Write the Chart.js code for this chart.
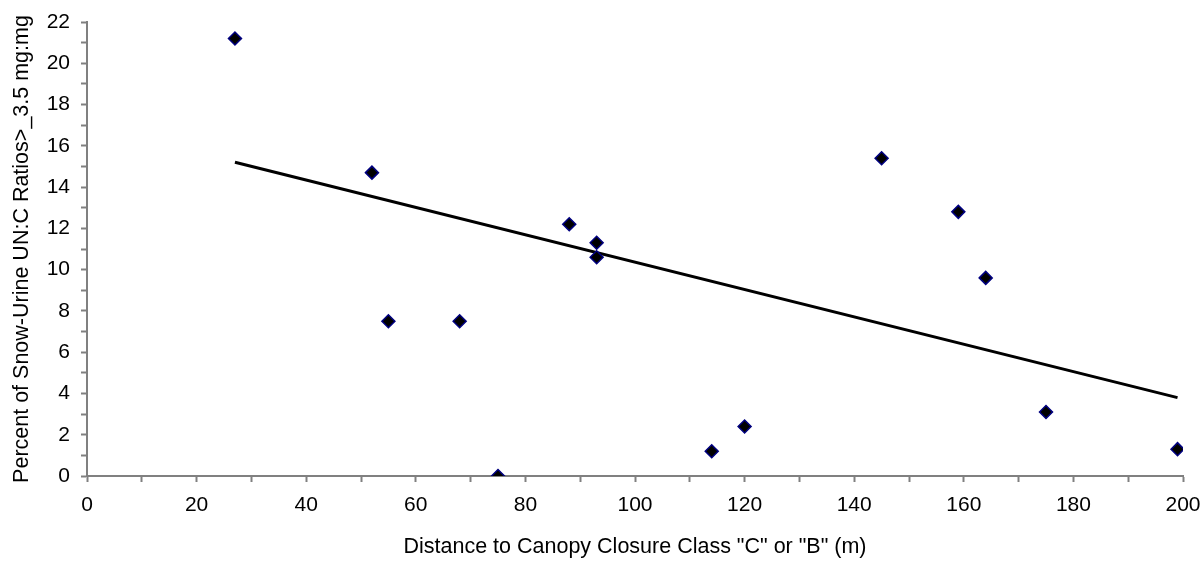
<!DOCTYPE html>
<html>
<head>
<meta charset="utf-8">
<script src="https://cdn.jsdelivr.net/npm/chart.js@4/dist/chart.umd.min.js"></script>
<style>
  html, body { margin: 0; padding: 0; background: #fff; }
  #wrap { width: 1204px; height: 561px; }
</style>
</head>
<body>
<div id="wrap"><canvas id="myChart" width="1204" height="561"></canvas></div>
<script>
// distance to canopy closure class (m) and percent of ratios
const distance = [27, 52, 55, 68, 75, 88, 93, 93, 114, 120, 145, 159, 164, 175, 199];
const percent = [21.2, 14.7, 7.5, 7.5, 0, 12.2, 11.3, 10.6, 1.2, 2.4, 15.4, 12.8, 9.6, 3.1, 1.3];
// linear trend line end points
const trendX = [27, 199];
const trendY = [15.2, 3.8];

const axisGrey = '#808080';
const family = 'Arial, "Liberation Sans", sans-serif';

const ctx = document.getElementById('myChart').getContext('2d');
const myChart = new Chart(ctx, {
    type: 'scatter',
    data: {
        datasets: [{
            data: distance.map((d, i) => ({ x: d, y: percent[i] })),
            pointStyle: 'rectRot',
            pointRadius: 6.5,
            backgroundColor: '#000000',
            borderColor: '#000080',
            borderWidth: 1.5
        }, {
            data: trendX.map((d, i) => ({ x: d, y: trendY[i] })),
            showLine: true,
            pointRadius: 0,
            borderColor: '#000000',
            borderWidth: 3
        }]
    },
    options: {
        responsive: false,
        animation: false,
        layout: { padding: { top: 22, right: 21, left: 0, bottom: 0 } },
        plugins: { legend: { display: false }, tooltip: { enabled: false } },
        scales: {
            x: {
                type: 'linear',
                min: 0, max: 200,
                afterFit: (s) => { s.height = 85; s.paddingLeft = 0; s.paddingRight = 0; },
                border: { color: axisGrey, width: 2 },
                grid: { drawOnChartArea: false, tickLength: 6, tickColor: axisGrey, tickWidth: 2 },
                ticks: {
                    stepSize: 10,
                    padding: 11,
                    color: '#000',
                    font: { family: family, size: 21 },
                    maxRotation: 0,
                    autoSkip: false,
                    callback: (v) => (v % 20 === 0 ? v : '')
                },
                title: {
                    display: true,
                    text: 'Distance to Canopy Closure Class "C" or "B" (m)',
                    color: '#000',
                    font: { family: family, size: 21.5 },
                    padding: { top: 0, bottom: 1 }
                }
            },
            y: {
                min: 0, max: 22,
                afterFit: (s) => { s.width = 87; s.paddingTop = 0; s.paddingBottom = 0; },
                border: { color: axisGrey, width: 2 },
                grid: { drawOnChartArea: false, tickLength: 6, tickColor: axisGrey, tickWidth: 2 },
                ticks: {
                    stepSize: 1,
                    padding: 11,
                    color: '#000',
                    font: { family: family, size: 21 },
                    autoSkip: false,
                    callback: (v) => (v % 2 === 0 ? v : '')
                },
                title: {
                    display: true,
                    text: 'Percent of Snow-Urine UN:C Ratios>_3.5 mg:mg',
                    color: '#000',
                    font: { family: family, size: 21.5 },
                    padding: { top: 9, bottom: 0 }
                }
            }
        }
    }
});
</script>
</body>
</html>
